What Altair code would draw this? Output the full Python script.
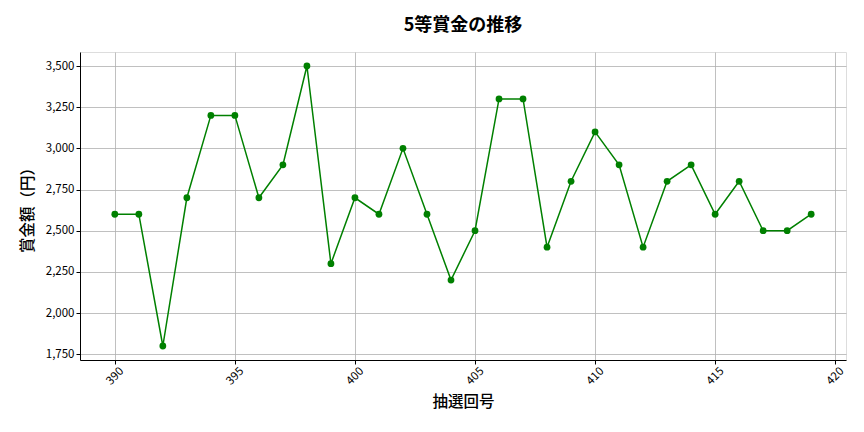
import altair as alt
import pandas as pd

draws = list(range(390, 420))
prizes = [2600, 2600, 1800, 2700, 3200, 3200, 2700, 2900, 3500, 2300,
          2700, 2600, 3000, 2600, 2200, 2500, 3300, 3300, 2400, 2800,
          3100, 2900, 2400, 2800, 2900, 2600, 2800, 2500, 2500, 2600]

df = pd.DataFrame({"draw": draws, "prize": prizes})

FONT = "Noto Sans CJK JP"

common = dict(labelFont=FONT, titleFont=FONT, labelFontSize=11.5, titleFontSize=15.5,
              titleFontWeight=500, labelColor="black", titleColor="black",
              gridColor="#b0b0b0", gridWidth=0.8, domainColor="black",
              tickColor="black", tickSize=4)

x = alt.X("draw:Q", title="抽選回号",
          scale=alt.Scale(domain=[388.55, 420.45], nice=False, zero=False),
          axis=alt.Axis(values=[390, 395, 400, 405, 410, 415, 420], format="d",
                        labelAngle=-45, labelAlign="center", labelBaseline="middle",
                        labelPadding=12, titlePadding=8, **common))
y = alt.Y("prize:Q", title="賞金額（円）",
          scale=alt.Scale(domain=[1715, 3585], nice=False, zero=False),
          axis=alt.Axis(values=[1750, 2000, 2250, 2500, 2750, 3000, 3250, 3500],
                        format=",d", titlePadding=10, **common))

line = alt.Chart(df).mark_line(color="green", strokeWidth=1.5).encode(x=x, y=y)
pts = alt.Chart(df).mark_point(color="green", filled=True, opacity=1, size=46).encode(x=x, y=y)

chart = (line + pts).properties(
    width=766, height=308,
    padding={"left": 12, "top": 9, "right": 5, "bottom": 5},
    title=alt.TitleParams("5等賞金の推移", fontSize=18, fontWeight="bold", font=FONT,
                          color="black", offset=17),
).configure_view(stroke="black", strokeWidth=1).configure(background="white")

chart.save("out.html", embed_options={"renderer": "svg", "actions": False})
